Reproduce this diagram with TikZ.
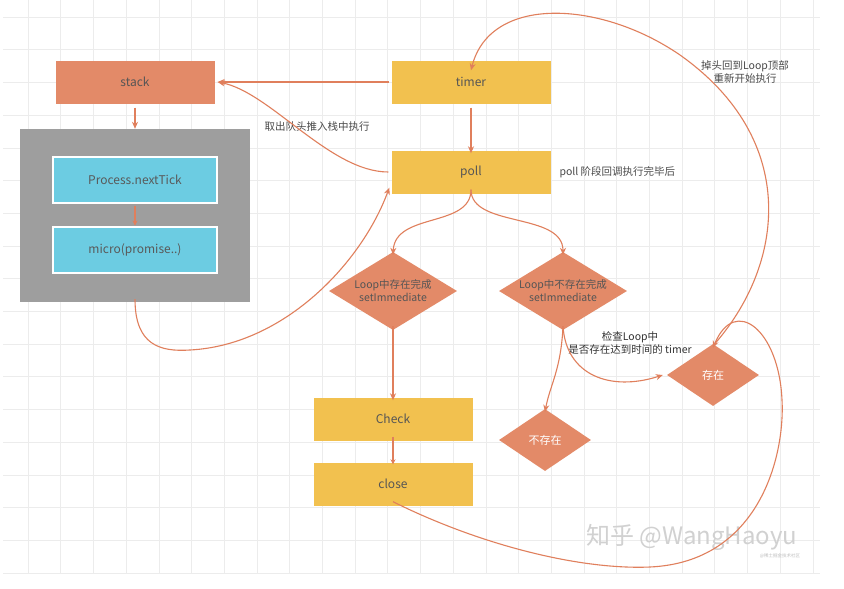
\documentclass[tikz,border=0pt]{standalone}
\usepackage{fontspec}
\setmainfont{Noto Sans CJK SC}
\usetikzlibrary{shapes.geometric,arrows.meta}
\definecolor{salmon}{HTML}{E38A68}
\definecolor{linec}{HTML}{E07F5C}
\definecolor{yel}{HTML}{F2C14F}
\definecolor{cyanb}{HTML}{6CCCE2}
\definecolor{grayb}{HTML}{9E9E9E}
\definecolor{txt}{HTML}{555555}
\definecolor{lbl}{HTML}{4A4A4A}
\definecolor{gridc}{HTML}{ECECEC}
\tikzset{
  box/.style={rectangle, minimum width=159pt, minimum height=43pt, inner sep=0pt, text=txt, font=\fontsize{12}{14}\selectfont},
  ybox/.style={box, fill=yel},
  sbox/.style={box, fill=salmon},
  cbox/.style={box, fill=cyanb, draw=white, line width=2pt, minimum width=164pt, minimum height=46pt, text=black!65},
  dia/.style={diamond, fill=salmon, inner sep=0pt, align=center},
  dtext/.style={text=txt, font=\fontsize{10.5}{13}\selectfont, align=center},
  conn/.style={draw=linec, line width=1.1pt, -{Stealth[length=7pt,width=6pt]}},
  lab/.style={text=lbl, font=\fontsize{10.5}{13}\selectfont, align=center},
}
\begin{document}
\begin{tikzpicture}[x=1pt,y=-1pt]
\useasboundingbox (0,0) rectangle (844,589);
\fill[white] (0,0) rectangle (844,589);
% grid
\foreach \i in {0,...,24} {\draw[gridc, line width=0.6pt] ({28+32.7*\i},0) -- ({28+32.7*\i},573);}
\foreach \j in {0,...,17} {\draw[gridc, line width=0.6pt] (3,{17+32.7*\j}) -- (820,{17+32.7*\j});}

% nodes
\node[sbox] (stack) at (135,82) {stack};
\node[ybox] (timer) at (471,82) {timer};
\node[ybox] (poll) at (471,172) {poll};
\node[rectangle, fill=grayb, minimum width=230pt, minimum height=173pt, inner sep=0pt] (micro) at (135,215.5) {};
\node[cbox] (tick) at (135,180) {Process.nextTick};
\node[cbox] (prom) at (135,249.5) {micro(promise..)};
\node[dia, minimum width=128pt, minimum height=78pt, label={[dtext]center:Loop中存在完成\\setImmediate}] (d1) at (393,291) {};
\node[dia, minimum width=128pt, minimum height=78pt, label={[dtext]center:Loop中不存在完成\\setImmediate}] (d2) at (563,291) {};
\node[ybox] (check) at (393,419) {Check};
\node[ybox] (close) at (393,484) {close};
\node[dia, minimum width=92pt, minimum height=62pt, text=white, font=\fontsize{11}{13}\selectfont] (no) at (545,440) {不存在};
\node[dia, minimum width=92pt, minimum height=62pt, text=white, font=\fontsize{11}{13}\selectfont] (yes) at (713,375) {存在};

% labels
\node[lab] (l1) at (317,127) {取出队头推入栈中执行};
\node[lab, anchor=west] (l2) at (556,172) {poll 阶段回调执行完毕后};
\node[lab] (l3) at (745,72) {掉头回到Loop顶部\\重新开始执行};
\node[text=black!80, font=\fontsize{10.5}{13}\selectfont, align=center] (l4) at (630,343) {检查Loop中\\是否存在达到时间的 timer};

% watermark
\node[text=black!18, font=\fontsize{24}{26}\selectfont] (wm) at (692,537) {知乎 @WangHaoyu};
\node[text=black!25, font=\fontsize{4.5}{5}\selectfont] (wm2) at (780,556) {@稀土掘金技术社区};

% connectors
\draw[conn] (stack.south) ++(0,4) -- (micro.north);
\draw[conn, -{Stealth[length=5pt,width=5pt]}] (tick.south) ++(0,2) -- (prom.north);
\draw[conn] (timer.south) ++(0,4) -- ([yshift=-3pt]poll.north);
\draw[conn] (timer.west) ++(-2,0) -- ([xshift=3pt]stack.east);
\draw[conn] ([xshift=-3pt]poll.west) .. controls (330,172) and (270,92) .. ([xshift=3pt]stack.east);
\draw[conn] ([yshift=4pt]poll.south) .. controls (471,228) and (395,212) .. ([yshift=-3pt]d1.north);
\draw[conn] ([yshift=4pt]poll.south) .. controls (471,228) and (563,212) .. ([yshift=-3pt]d2.north);
\draw[conn] ([yshift=3pt]micro.south) .. controls (135,345) and (160,352) .. (190,350)
   .. controls (285,345) and (362,262) .. ([xshift=-2pt,yshift=6pt]poll.south west);
\draw[conn] ([yshift=4pt]d1.south) -- ([yshift=-3pt]check.north);
\draw[conn, -{Stealth[length=5pt,width=5pt]}] ([yshift=4pt]check.south) -- ([yshift=-2pt]close.north);
\draw[conn] ([yshift=4pt]d2.south) .. controls (561,370) and (550,385) .. ([yshift=-3pt]no.north);
\draw[conn] ([yshift=4pt]d2.south) .. controls (566,375) and (610,392) .. ([xshift=-4pt]yes.west);
\draw[conn] ([yshift=-2pt]yes.north) .. controls (785,265) and (800,140) .. (680,55)
   .. controls (600,0) and (490,-5) .. ([yshift=-10pt]timer.north);
\draw[conn] ([yshift=4pt]close.south) .. controls (480,545) and (580,570) .. (650,567)
   .. controls (760,562) and (785,455) .. (782,400)
   .. controls (779,330) and (735,295) .. ([yshift=-4pt]yes.north);
\end{tikzpicture}
\end{document}
